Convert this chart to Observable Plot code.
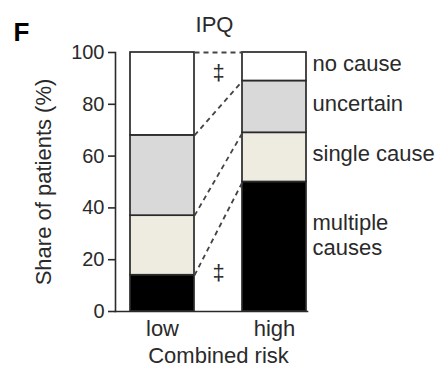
<!DOCTYPE html>
<html>
<head>
<meta charset="utf-8">
<script src="https://cdn.jsdelivr.net/npm/d3@7"></script>
<script src="https://cdn.jsdelivr.net/npm/@observablehq/plot@0.6"></script>
<style>
  html, body { margin: 0; padding: 0; background: #fff; }
</style>
</head>
<body>
<div id="chart"></div>
<script>
// ---- data ----
const groups = ["low", "high"];
const categories = ["multiple causes", "single cause", "uncertain", "no cause"];
const lowShares = [14, 23, 31, 32];
const highShares = [50, 19, 20, 11];
const categoryColors = ["#000000", "#eeece1", "#d9d9d9", "#ffffff"];
const yTicks = [0, 20, 40, 60, 80, 100];
const panelLetter = "F";
const title = "IPQ";
const xLabel = "Combined risk";
const yLabel = "Share of patients (%)";
const sigSymbols = ["‡", "‡"];
const sigValues = [92, 15];

// ---- layout (data units along x) ----
const barWidth = 1, gap = 0.75;
const barStart = i => i * (barWidth + gap);
const shares = [lowShares, highShares];

const rows = [];
groups.forEach((g, gi) => {
  let cum = 0;
  categories.forEach((c, ci) => {
    const v = shares[gi][ci];
    rows.push({group: g, category: c, y1: cum, y2: cum + v,
               x1: barStart(gi), x2: barStart(gi) + barWidth});
    cum += v;
  });
});

// connectors between segment tops of low and high
const links = categories.map(c => {
  const a = rows.find(r => r.group === "low" && r.category === c);
  const b = rows.find(r => r.group === "high" && r.category === c);
  return {x1: barStart(0) + barWidth, x2: barStart(1), y1: a.y2, y2: b.y2};
});

const highRows = rows.filter(r => r.group === "high");
const labelRows = highRows.map(r => ({
  text: r.category === "multiple causes" ? "multiple\ncauses" : r.category,
  y: (r.y1 + r.y2) / 2, x: barStart(1) + barWidth, bottom: r.category === "multiple causes"
}));

const gapMid = (barStart(0) + barWidth + barStart(1)) / 2;
const sigRows = sigSymbols.map((s, i) => ({text: s, y: sigValues[i], x: gapMid}));
const groupRows = groups.map((g, i) => ({text: g, x: barStart(i) + barWidth / 2}));

const ink = "#2a2a2a";

const chart = Plot.plot({
  width: 440,
  height: 369,
  marginLeft: 115,
  marginRight: 133,
  marginTop: 52,
  marginBottom: 58,
  x: {type: "linear", domain: [0, barStart(1) + barWidth], range: [130, 306], axis: null},
  y: {domain: [0, 100], axis: null},
  color: {domain: categories, range: categoryColors},
  style: {fontFamily: "'Liberation Sans', Arial, sans-serif", color: ink, background: "#fff", overflow: "visible"},
  marks: [
    Plot.rect(rows, {x1: "x1", x2: "x2", y1: "y1", y2: "y2", fill: "category", stroke: ink, strokeWidth: 1.7}),
    Plot.link(links, {x1: "x1", x2: "x2", y1: "y1", y2: "y2", stroke: "#444", strokeWidth: 1.8, strokeDasharray: "5,4"}),
    Plot.frame({anchor: "left", stroke: ink, strokeWidth: 1.6}),
    Plot.frame({anchor: "bottom", stroke: ink, strokeWidth: 1.6}),
    Plot.axisY(yTicks, {anchor: "left", tickSize: 7, tickPadding: 4, fontSize: 20, label: null, strokeWidth: 1.6}),
    Plot.text(groupRows, {x: "x", y: () => 0, text: "text", fontSize: 22, dy: 17, lineAnchor: "middle"}),
    Plot.text([xLabel], {x: () => gapMid, y: () => 0, text: d => d, fontSize: 22, dy: 44, lineAnchor: "middle"}),
    Plot.text([yLabel], {frameAnchor: "left", text: d => d, rotate: -90, fontSize: 22, dx: -72, textAnchor: "middle", lineAnchor: "middle"}),
    Plot.text([title], {frameAnchor: "top", text: d => d, fontSize: 22, dx: 3, dy: -28, lineAnchor: "middle"}),
    Plot.text([panelLetter], {frameAnchor: "top-left", text: d => d, fontSize: 26, fontWeight: "bold", fill: "#000", dx: -102, dy: -20, textAnchor: "start", lineAnchor: "middle"}),
    Plot.text(labelRows.filter(d => !d.bottom), {x: "x", y: "y", text: "text", fontSize: 22, dx: 6, dy: -3, textAnchor: "start", lineAnchor: "middle"}),
    Plot.text(labelRows.filter(d => d.bottom), {x: "x", y: "y", text: "text", fontSize: 22, dx: 6, dy: -12, textAnchor: "start", lineAnchor: "middle", lineHeight: 1.12}),
    Plot.text(sigRows, {x: "x", y: "y", text: "text", fontSize: 22, lineAnchor: "middle"})
  ]
});
document.getElementById("chart").appendChild(chart);
</script>
</body>
</html>
